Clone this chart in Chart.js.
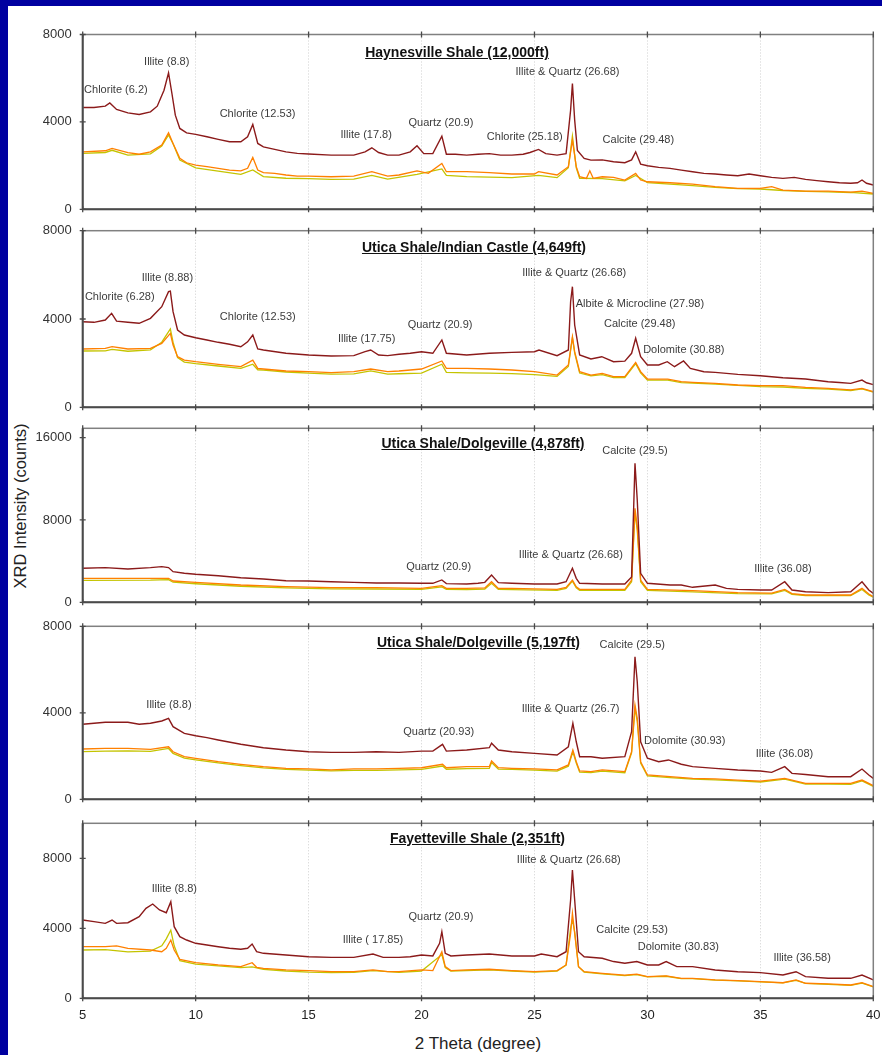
<!DOCTYPE html>
<html>
<head>
<meta charset="utf-8">
<script src="https://cdn.jsdelivr.net/npm/chart.js@4"></script>
<style>
  body { margin: 0; width: 882px; height: 1055px; overflow: hidden; background: #0000a0;
         font-family: "Liberation Sans", Arial, sans-serif; position: relative; }
  #sheet { position: absolute; left: 8px; top: 6px; right: 0; bottom: 0; background: #fff; }
  .panel { position: absolute; left: 0; }
  .ptitle { position: absolute; font-weight: bold; font-size: 14px; text-decoration: underline;
            color: #111; transform: translate(-50%, -50%); white-space: nowrap; }
  #xtitle { position: absolute; left: 478px; top: 1044px; transform: translate(-50%, -50%);
            font-size: 17px; color: #222; white-space: nowrap; }
  #ytitle { position: absolute; left: 20px; top: 506px; transform: translate(-50%, -50%) rotate(-90deg);
            font-size: 16.5px; color: #222; white-space: nowrap; }
</style>
</head>
<body>
<div id="sheet"></div>
<div id="xtitle">2 Theta (degree)</div>
<div id="ytitle">XRD Intensity (counts)</div>
<script>
// ---- data: [2theta, counts] ----
const haynesRed = [[5,4660],[5.5,4660],[6,4720],[6.2,4870],[6.5,4570],[7,4415],[7.5,4340],[8,4460],[8.3,4720],[8.6,5450],[8.8,6245],[8.95,5300],[9.1,4310],[9.3,3700],[9.6,3500],[10,3430],[10.5,3320],[11,3200],[11.5,3090],[12,3090],[12.3,3320],[12.53,3885],[12.75,3015],[13,2860],[13.5,2740],[14,2630],[14.5,2560],[15,2530],[16,2480],[17,2480],[17.5,2630],[17.8,2815],[18.1,2600],[18.5,2480],[19,2480],[19.5,2630],[19.8,2910],[20.1,2550],[20.5,2550],[20.9,3350],[21.1,2520],[21.5,2520],[22,2480],[22.5,2520],[23,2550],[23.5,2480],[24,2480],[24.5,2520],[24.8,2600],[25.18,2740],[25.5,2550],[26,2480],[26.4,2550],[26.6,4540],[26.68,5760],[26.78,4080],[26.9,2690],[27.2,2330],[27.5,2250],[28,2260],[28.5,2175],[29,2130],[29.3,2260],[29.48,2630],[29.7,2070],[30,1995],[30.5,1920],[31,1875],[31.5,1795],[32,1720],[32.5,1645],[33,1615],[33.5,1570],[34,1535],[34.5,1615],[35,1535],[35.5,1460],[36,1415],[36.5,1460],[37,1370],[37.5,1310],[38,1260],[38.5,1215],[39,1190],[39.3,1215],[39.5,1340],[39.7,1190],[40,1110]];
const haynesOrange = [[5,2630],[6,2680],[6.3,2790],[7,2590],[7.5,2520],[8,2630],[8.5,2940],[8.8,3500],[9,3015],[9.3,2330],[9.6,2130],[10,2025],[10.5,1950],[11,1875],[11.5,1795],[12,1760],[12.3,1875],[12.53,2375],[12.75,1795],[13,1675],[13.5,1645],[14,1570],[14.5,1520],[15,1520],[16,1490],[17,1520],[17.8,1720],[18.5,1520],[19,1570],[19.8,1760],[20.3,1645],[20.9,2100],[21.1,1720],[22,1720],[23,1675],[24,1615],[25,1615],[25.18,1720],[26,1570],[26.5,1950],[26.68,3170],[26.85,1950],[27,1490],[27.3,1415],[27.45,1760],[27.6,1415],[28,1490],[28.5,1460],[29,1340],[29.48,1645],[29.7,1340],[30,1260],[31,1215],[32,1150],[33,1035],[34,960],[35,960],[35.5,1035],[36,880],[37,830],[38,830],[39,790],[39.5,830],[40,730]];
const haynesYellow = [[5,2560],[6,2600],[6.3,2700],[7,2480],[8,2540],[8.5,2900],[8.8,3400],[9,3000],[9.3,2250],[10,1900],[11,1750],[12,1600],[12.53,1800],[13,1500],[14,1420],[15,1400],[16,1370],[17,1380],[17.8,1550],[18.5,1380],[19.8,1600],[20.9,1850],[21.1,1550],[22,1500],[23,1470],[24,1450],[25.18,1550],[26,1450],[26.5,1900],[26.68,3350],[26.85,1900],[27,1420],[28,1400],[29,1300],[29.48,1550],[30,1220],[31,1150],[32,1080],[33,1000],[34,950],[35,930],[36,860],[37,820],[38,800],[39,770],[40,700]];

const indianRed = [[5,3878],[5.5,3850],[6,3955],[6.28,4258],[6.5,3900],[7,3850],[7.5,3805],[8,4032],[8.5,4557],[8.8,5237],[8.88,5260],[9,4330],[9.2,3500],[9.5,3275],[10,3153],[10.5,3050],[11,2944],[11.5,2854],[12,2745],[12.3,2966],[12.53,3275],[12.75,2641],[13,2596],[14,2446],[15,2370],[16,2324],[17,2340],[17.5,2519],[17.75,2596],[18.1,2370],[18.5,2340],[19,2400],[19.5,2446],[20,2519],[20.5,2446],[20.9,3050],[21.1,2446],[22,2370],[23,2446],[24,2490],[25,2519],[25.2,2596],[26,2340],[26.5,2596],[26.6,4784],[26.68,5463],[26.78,3728],[27,2370],[27.5,2188],[27.98,2292],[28.5,2066],[29,2090],[29.3,2446],[29.48,3126],[29.7,2292],[30,1916],[30.5,1916],[30.88,2066],[31.2,1839],[31.6,2097],[31.9,1763],[32.5,1613],[33,1580],[34,1490],[35,1430],[36,1340],[37,1280],[38,1160],[38.5,1125],[39,1085],[39.5,1235],[39.7,1110],[40,1030]];
const indianOrange = [[5,2641],[6,2670],[6.3,2745],[7,2641],[8,2670],[8.5,2895],[8.88,3352],[9,2820],[9.2,2292],[9.5,2140],[10,2066],[11,1948],[12,1840],[12.53,2140],[12.75,1763],[13,1735],[14,1644],[15,1614],[16,1570],[17,1614],[17.75,1735],[18.5,1614],[19,1644],[20,1735],[20.9,2100],[21.1,1763],[22,1763],[23,1735],[24,1690],[25,1614],[26,1460],[26.5,1916],[26.68,3198],[26.78,2519],[27,1614],[27.5,1460],[28,1540],[28.5,1388],[29,1388],[29.48,2036],[29.7,1614],[30,1280],[30.9,1280],[31.5,1160],[32,1130],[33,1085],[34,1010],[35,980],[36,980],[37,905],[38,860],[39,785],[39.5,860],[40,710]];
const indianYellow = [[5,2550],[6,2560],[6.3,2620],[7,2540],[8,2600],[8.5,2950],[8.88,3550],[9,2950],[9.2,2250],[9.5,2050],[10,1980],[11,1870],[12,1760],[12.53,1950],[12.75,1700],[13,1680],[14,1600],[15,1550],[16,1500],[17,1510],[17.75,1650],[18.5,1500],[19,1520],[20,1550],[20.9,1950],[21.1,1580],[22,1560],[23,1550],[24,1530],[25,1480],[26,1400],[26.5,1850],[26.68,3150],[26.78,2450],[27,1550],[27.5,1420],[28,1480],[28.5,1340],[29,1340],[29.48,1980],[29.7,1560],[30,1230],[30.9,1230],[31.5,1120],[32,1100],[33,1050],[34,990],[35,940],[36,920],[37,860],[38,820],[39,760],[39.5,830],[40,690]];

const dolg4878Red = [[5,3305],[6,3370],[7,3240],[8,3370],[8.5,3460],[8.8,3370],[9,2975],[9.5,2820],[10,2720],[11,2585],[12,2390],[13,2265],[14,2100],[15,2070],[16,2000],[17,1940],[18,1875],[19,1875],[20,1845],[20.5,1845],[20.9,2170],[21.1,1810],[22,1780],[22.5,1845],[22.8,1940],[23.1,2650],[23.4,1910],[24,1845],[25,1780],[26,1780],[26.4,2000],[26.68,3300],[26.85,2325],[27,1845],[28,1780],[29,1780],[29.3,2470],[29.45,13510],[29.55,9944],[29.7,2810],[30,1845],[31,1680],[31.5,1680],[32,1455],[33,1680],[33.5,1355],[34,1260],[35,1190],[35.5,1190],[36.08,2000],[36.4,1190],[37,1030],[38,935],[39,1030],[39.5,2000],[39.8,1190],[40,870]];
const dolg4878Orange = [[5,2330],[8,2330],[8.8,2330],[9,2070],[10,1940],[12,1680],[14,1520],[16,1420],[18,1420],[20,1360],[20.9,1620],[21.1,1360],[22,1360],[22.8,1400],[23.1,2000],[23.4,1355],[24,1355],[26,1260],[26.4,1450],[26.68,2160],[26.85,1500],[27,1260],[29,1260],[29.3,2160],[29.45,9130],[29.55,7350],[29.7,2160],[30,1260],[32,1125],[34,935],[35.5,900],[36.08,1260],[36.4,850],[37,710],[39,710],[39.5,1355],[39.8,800],[40,550]];
const dolg4878Yellow = [[5,2130],[8,2150],[8.8,2200],[9,1950],[10,1800],[12,1560],[14,1400],[16,1300],[18,1290],[20,1250],[20.9,1500],[21.1,1250],[22,1240],[22.8,1290],[23.1,1850],[23.4,1250],[24,1240],[26,1160],[26.4,1350],[26.68,2050],[26.85,1400],[27,1160],[29,1150],[29.3,2000],[29.45,8700],[29.55,7000],[29.7,2000],[30,1150],[32,1020],[34,850],[35.5,820],[36.08,1150],[36.4,780],[37,640],[39,640],[39.5,1250],[39.8,720],[40,500]];

const dolg5197Red = [[5,3468],[6,3560],[7,3560],[7.5,3468],[8,3515],[8.5,3620],[8.8,3745],[9,3357],[9.5,3050],[10,2940],[10.5,2850],[11,2742],[12,2543],[13,2386],[14,2280],[15,2200],[16,2170],[17,2170],[18,2200],[19,2170],[20,2230],[20.5,2230],[20.93,2543],[21.1,2230],[22,2280],[23,2386],[23.1,2590],[23.4,2280],[24,2200],[25,2125],[26,2050],[26.5,2430],[26.7,3514],[26.85,2660],[27,1970],[27.5,1970],[28,1900],[29,1970],[29.3,3130],[29.45,6594],[29.55,5438],[29.7,2660],[30,1900],[30.5,1740],[30.93,1820],[31.5,1620],[32,1510],[33,1430],[34,1355],[35,1310],[35.5,1245],[36.08,1510],[36.4,1200],[37,1150],[38,1045],[39,1045],[39.5,1400],[39.8,1120],[40,965]];
const dolg5197Orange = [[5,2325],[6,2355],[7,2355],[8,2310],[8.8,2430],[9,2200],[9.5,1970],[10,1895],[11,1740],[12,1618],[13,1508],[14,1433],[15,1410],[16,1360],[17,1410],[18,1410],[19,1433],[20,1460],[20.93,1618],[21.1,1460],[22,1508],[23,1508],[23.1,1770],[23.4,1460],[24,1433],[25,1410],[26,1360],[26.5,1590],[26.7,2280],[26.85,1740],[27,1310],[27.5,1280],[28,1360],[29,1280],[29.3,2200],[29.45,4360],[29.55,3745],[29.7,1740],[30,1125],[31,1045],[32,965],[33,940],[34,890],[35,840],[36.08,965],[37,735],[38,735],[39,735],[39.5,890],[40,630]];
const dolg5197Yellow = [[5,2200],[6,2230],[7,2240],[8,2220],[8.8,2350],[9,2120],[9.5,1900],[10,1820],[11,1680],[12,1560],[13,1450],[14,1380],[15,1350],[16,1310],[17,1340],[18,1340],[19,1360],[20,1380],[20.93,1540],[21.1,1390],[22,1420],[23,1430],[23.1,1700],[23.4,1400],[24,1380],[25,1350],[26,1300],[26.5,1530],[26.7,2200],[26.85,1680],[27,1260],[27.5,1230],[28,1300],[29,1230],[29.3,2150],[29.45,4200],[29.55,3600],[29.7,1680],[30,1080],[31,1000],[32,930],[33,900],[34,850],[35,800],[36.08,930],[37,700],[38,700],[39,690],[39.5,850],[40,600]];

const fayRed = [[5,4474],[5.5,4380],[6,4284],[6.3,4474],[6.5,4284],[7,4320],[7.5,4663],[7.8,5142],[8.1,5388],[8.4,5045],[8.7,4890],[8.9,5520],[9.05,4091],[9.3,3520],[9.6,3330],[10,3143],[10.5,3046],[11,2948],[11.5,2857],[12,2800],[12.3,2857],[12.5,3103],[12.7,2663],[13,2571],[14,2474],[15,2377],[16,2340],[17,2340],[17.85,2530],[18.3,2340],[19,2340],[19.5,2377],[20,2474],[20.5,2420],[20.8,3143],[20.9,3807],[21.05,2571],[21.3,2420],[22,2474],[23,2530],[24,2420],[25,2420],[25.3,2530],[26,2377],[26.4,2663],[26.6,5617],[26.68,7331],[26.78,5617],[26.95,2663],[27.2,2377],[28,2285],[28.5,2100],[29,2000],[29.53,2100],[30,1905],[30.5,1905],[30.83,2100],[31.3,1810],[32,1810],[33,1620],[34,1520],[35,1470],[36,1330],[36.58,1520],[37,1240],[38,1143],[39,1143],[39.5,1330],[40,1050]];
const fayOrange = [[5,2948],[6,2948],[6.5,2990],[7,2857],[8,2760],[8.5,2663],[8.7,2857],[8.9,3330],[9.05,2760],[9.3,2228],[10,2035],[11,1905],[12,1810],[12.5,2035],[12.7,1770],[13,1715],[14,1620],[15,1580],[16,1520],[17,1520],[17.85,1620],[18.5,1520],[19,1520],[20,1620],[20.5,1580],[20.9,2663],[21.05,1810],[21.3,1580],[22,1620],[23,1660],[24,1580],[25,1520],[26,1580],[26.4,1905],[26.6,3714],[26.68,4857],[26.78,3714],[26.95,1810],[27.2,1520],[28,1430],[29,1330],[29.53,1380],[30,1240],[30.83,1280],[31.5,1143],[32,1143],[33,1050],[34,1010],[35,950],[36,890],[36.58,1050],[37,860],[38,820],[39,760],[39.5,890],[40,670]];
const fayYellow = [[5,2760],[6,2780],[7,2650],[8,2700],[8.5,3000],[8.7,3400],[8.9,3900],[9.05,3000],[9.3,2150],[10,1950],[11,1850],[12,1750],[12.5,1800],[13,1650],[14,1560],[15,1500],[16,1470],[17,1480],[17.85,1580],[19,1480],[20,1560],[20.9,2500],[21.05,1750],[21.3,1560],[22,1580],[23,1620],[24,1560],[25,1500],[26,1550],[26.4,1900],[26.6,4000],[26.68,4500],[26.78,3800],[26.95,1800],[27.2,1500],[28,1400],[29,1300],[29.53,1350],[30,1230],[30.83,1260],[31.5,1130],[32,1120],[33,1040],[34,990],[35,940],[36,880],[36.58,1020],[37,850],[38,800],[39,740],[39.5,870],[40,650]];

// peak labels: [text, 2theta, counts] (label centre)
const haynesPeaks = [['Chlorite (6.2)',6.47,5450],['Illite (8.8)',8.72,6730],['Chlorite (12.53)',12.74,4370],['Illite (17.8)',17.55,3400],['Quartz (20.9)',20.86,3960],['Chlorite (25.18)',24.57,3300],['Illite & Quartz (26.68)',26.46,6290],['Calcite (29.48)',29.6,3170]];
const indianPeaks = [['Chlorite (6.28)',6.64,4980],['Illite (8.88)',8.75,5840],['Chlorite (12.53)',12.75,4100],['Illite (17.75)',17.57,3080],['Quartz (20.9)',20.82,3730],['Illite & Quartz (26.68)',26.76,6100],['Albite & Microcline (27.98)',29.67,4680],['Calcite (29.48)',29.66,3770],['Dolomite (30.88)',31.61,2600]];
const dolg4878Peaks = [['Quartz (20.9)',20.76,3400],['Illite & Quartz (26.68)',26.61,4600],['Calcite (29.5)',29.45,14730],['Illite (36.08)',36.0,3210]];
const dolg5197Peaks = [['Illite (8.8)',8.82,4360],['Quartz (20.93)',20.76,3130],['Illite & Quartz (26.7)',26.6,4180],['Calcite (29.5)',29.33,7135],['Dolomite (30.93)',31.65,2700],['Illite (36.08)',36.07,2100]];
const fayPeaks = [['Illite (8.8)',9.06,6250],['Illite ( 17.85)',17.85,3330],['Quartz (20.9)',20.86,4660],['Illite & Quartz (26.68)',26.52,7900],['Calcite (29.53)',29.32,3900],['Dolomite (30.83)',31.37,2950],['Illite (36.58)',36.85,2290]];

const panelTitles = ['Haynesville Shale (12,000ft)', 'Utica Shale/Indian Castle (4,649ft)',
  'Utica Shale/Dolgeville (4,878ft)', 'Utica Shale/Dolgeville (5,197ft)', 'Fayetteville Shale (2,351ft)'];
const yMax = [8000, 8000, 16900, 8000, 10000];
const yTicks = [[0, 4000, 8000], [0, 4000, 8000], [0, 8000, 16000], [0, 4000, 8000], [0, 4000, 8000]];
const xTicks = [5, 10, 15, 20, 25, 30, 35, 40];

// ---- layout ----
const plotLeft = 82.7, plotRight = 873.3;
const panelTop = [34.5, 230.7, 428.3, 626.3, 823.3];
const panelBottom = [209.3, 407.3, 602.3, 799.3, 998.3];
const titlePos = [[457, 52], [474, 247], [483, 443], [478.5, 642], [477.5, 838]];

const series = [
  [haynesRed, haynesOrange, haynesYellow],
  [indianRed, indianOrange, indianYellow],
  [dolg4878Red, dolg4878Orange, dolg4878Yellow],
  [dolg5197Red, dolg5197Orange, dolg5197Yellow],
  [fayRed, fayOrange, fayYellow]
];
const peaks = [haynesPeaks, indianPeaks, dolg4878Peaks, dolg5197Peaks, fayPeaks];
const colors = ['#8b1a1a', '#ff8000', '#c4c400'];
const FONT = '"Liberation Sans", Arial, sans-serif';

const frame = {
  id: 'frame',
  afterDraw(chart) {
    const { ctx, chartArea: a, scales: { x, y } } = chart;
    ctx.save();
    ctx.strokeStyle = '#808080';
    ctx.lineWidth = 1.5;
    ctx.strokeRect(a.left, a.top, a.right - a.left, a.bottom - a.top);
    ctx.strokeStyle = '#4a4a4a';
    ctx.lineWidth = 2;
    ctx.beginPath();
    ctx.moveTo(a.left, a.top);
    ctx.lineTo(a.left, a.bottom);
    ctx.lineTo(a.right, a.bottom);
    ctx.stroke();
    ctx.lineWidth = 1.3;
    ctx.beginPath();
    x.ticks.forEach(t => {
      const px = x.getPixelForValue(t.value);
      [a.top, a.bottom].forEach(py => { ctx.moveTo(px, py - 3); ctx.lineTo(px, py + 3); });
    });
    y.ticks.forEach(t => {
      const py = y.getPixelForValue(t.value);
      ctx.moveTo(a.left - 3, py); ctx.lineTo(a.left + 3, py);
    });
    ctx.stroke();
    // peak labels
    ctx.fillStyle = '#3c3c3c';
    ctx.font = '11px ' + FONT;
    ctx.textAlign = 'center';
    ctx.textBaseline = 'middle';
    (chart.options.plugins.frame.labels || []).forEach(([txt, vx, vy]) => {
      ctx.fillText(txt, x.getPixelForValue(vx), y.getPixelForValue(vy));
    });
    ctx.restore();
  }
};

series.forEach((trio, i) => {
  const last = i === series.length - 1;
  const canvasTop = Math.floor(panelTop[i]) - 8;
  const padTop = panelTop[i] - canvasTop;
  const canvasH = Math.ceil(panelBottom[i]) + (last ? 34 : 8) - canvasTop;
  const xHeight = canvasH - (panelBottom[i] - canvasTop);

  const box = document.createElement('div');
  box.className = 'panel';
  box.style.top = canvasTop + 'px';
  const cv = document.createElement('canvas');
  cv.width = 882; cv.height = canvasH;
  cv.style.width = '882px'; cv.style.height = canvasH + 'px';
  box.appendChild(cv);
  document.body.appendChild(box);

  const t = document.createElement('div');
  t.className = 'ptitle';
  t.textContent = panelTitles[i];
  t.style.left = titlePos[i][0] + 'px';
  t.style.top = titlePos[i][1] + 'px';
  document.body.appendChild(t);

  new Chart(cv, {
    type: 'line',
    data: {
      datasets: trio.map((pts, k) => ({
        data: pts.map(p => ({ x: p[0], y: p[1] })),
        borderColor: colors[k],
        borderWidth: k === 0 ? 1.4 : 1.3,
        pointRadius: 0,
        tension: 0,
        fill: false
      }))
    },
    options: {
      responsive: false,
      animation: false,
      devicePixelRatio: 1,
      layout: { padding: { left: 0, right: 882 - plotRight, top: padTop, bottom: 0 } },
      scales: {
        x: {
          type: 'linear', min: 5, max: 40,
          afterFit: s => { s.height = xHeight; s.paddingLeft = 0; s.paddingRight = 0; },
          afterBuildTicks: s => { s.ticks = xTicks.map(v => ({ value: v })); },
          ticks: { display: last, padding: 9, color: '#222', maxRotation: 0, callback: v => String(v),
                   font: { size: 13, family: FONT } },
          grid: { drawTicks: false,
                  color: c => (c.tick && (c.tick.value === 5 || c.tick.value === 40)) ? 'rgba(0,0,0,0)' : '#cfcfcf' },
          border: { display: false, dash: [1, 2] }
        },
        y: {
          min: 0, max: yMax[i],
          afterFit: s => { s.width = plotLeft; s.paddingTop = 0; s.paddingBottom = 0; },
          afterBuildTicks: s => { s.ticks = yTicks[i].map(v => ({ value: v })); },
          ticks: { padding: 11, color: '#333', callback: v => String(v),
                   font: { size: 13, family: FONT } },
          grid: { display: false, drawTicks: false },
          border: { display: false }
        }
      },
      plugins: {
        legend: { display: false },
        tooltip: { enabled: false },
        frame: { labels: peaks[i] }
      }
    },
    plugins: [frame]
  });
});
</script>
</body>
</html>
